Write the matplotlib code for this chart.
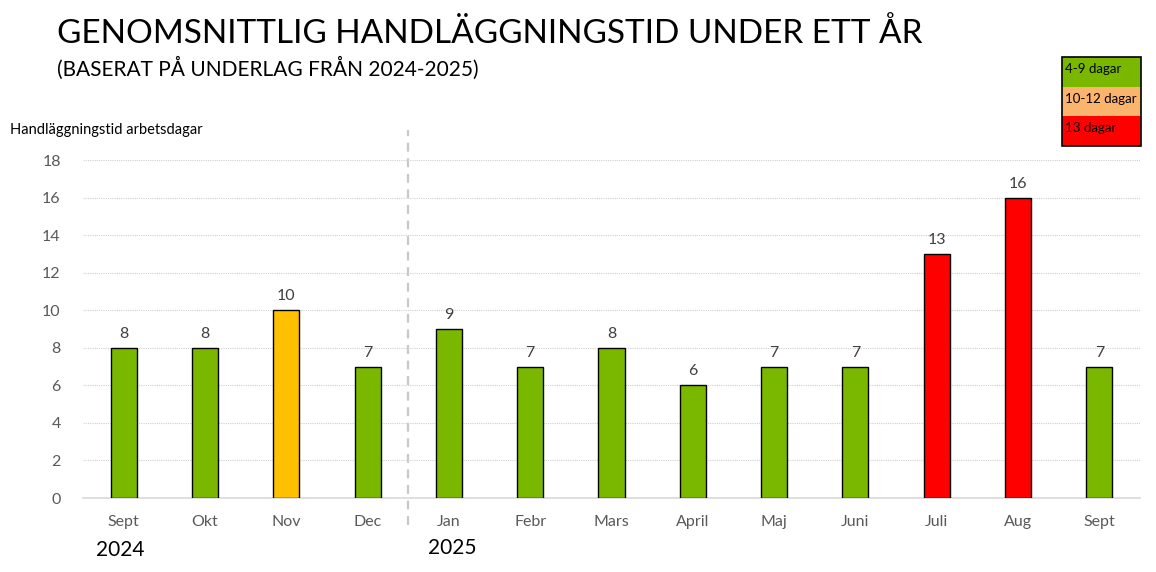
import matplotlib
matplotlib.use("Agg")
import matplotlib.pyplot as plt
from matplotlib.patches import Rectangle

plt.rcParams['font.family'] = ['Lato', 'DejaVu Sans']

months = ["Sept", "Okt", "Nov", "Dec", "Jan", "Febr", "Mars", "April", "Maj", "Juni", "Juli", "Aug", "Sept"]
values = [8, 8, 10, 7, 9, 7, 8, 6, 7, 7, 13, 16, 7]
colors = ["#7AB800", "#7AB800", "#FFC000", "#7AB800", "#7AB800", "#7AB800", "#7AB800",
          "#7AB800", "#7AB800", "#7AB800", "#FF0000", "#FF0000", "#7AB800"]
years = ["2024", "2025"]
legend_labels = ["4-9 dagar", "10-12 dagar", "13 dagar"]
legend_colors = ["#7AB800", "#FAB46E", "#FF0000"]
yticks = [0, 2, 4, 6, 8, 10, 12, 14, 16, 18]

fig = plt.figure(figsize=(11.56, 5.72), dpi=100)
ax = fig.add_axes([83/1156, 74/572, (1140-83)/1156, (498-160)/572])

x = list(range(len(months)))
ax.bar(x, values, width=0.32, color=colors, edgecolor="black", linewidth=1.0, zorder=3)
for xi, v in zip(x, values):
    ax.annotate(str(v), (xi, v), xytext=(0, 5), textcoords="offset points",
                ha="center", va="bottom", fontsize=11.5, color="#404040")

ax.set_xlim(-0.5, len(months) - 0.5)
ax.set_ylim(0, 18)
ax.set_yticks(yticks)
ax.set_xticks(x)
ax.set_xticklabels(months)
ax.tick_params(axis="both", length=0, labelsize=11.5, labelcolor="#595959")
ax.tick_params(axis="x", pad=12)
ax.tick_params(axis="y", pad=16)
ax.yaxis.grid(True, linestyle=(0, (1, 1)), color="#d0d0d0", linewidth=0.8, zorder=0)
for s in ["top", "right", "left"]:
    ax.spines[s].set_visible(False)
ax.spines["bottom"].set_color("#d9d9d9")
ax.spines["bottom"].set_linewidth(1.2)

# divider between years
ax.plot([3.5, 3.5], [-0.08, 1.09], transform=ax.get_xaxis_transform(), color="#c8c8c8",
        linestyle=(0, (4, 3)), linewidth=1.6, clip_on=False, zorder=1)

# year labels
fig.text(120/1156, 1 - 550/572, years[0], ha="center", va="center", fontsize=15, color="black")
fig.text(452/1156, 1 - 548/572, years[1], ha="center", va="center", fontsize=15, color="black")

# titles
fig.text(57/1156, 1 - 34/572, "GENOMSNITTLIG HANDLÄGGNINGSTID UNDER ETT ÅR",
         ha="left", va="center", fontsize=24, color="black")
fig.text(57/1156, 1 - 68/572, "(BASERAT PÅ UNDERLAG FRÅN 2024-2025)",
         ha="left", va="center", fontsize=15, color="black")
fig.text(10/1156, 1 - 130/572, "Handläggningstid arbetsdagar",
         ha="left", va="center", fontsize=10.5, color="black")

# legend box
lx0, lx1 = 1062, 1141
ly0 = 57
rh = 29.7
for i, (lab, col) in enumerate(zip(legend_labels, legend_colors)):
    top = ly0 + i * rh
    fig.patches.append(Rectangle((lx0/1156, 1 - (top + rh)/572), (lx1 - lx0)/1156, rh/572,
                                 transform=fig.transFigure, facecolor=col, edgecolor="none"))
    fig.text((lx0 + 3)/1156, 1 - (top + 12)/572, lab, ha="left", va="center",
             fontsize=9.5, color="black")
fig.patches.append(Rectangle((lx0/1156, 1 - (ly0 + 3*rh)/572), (lx1 - lx0)/1156, 3*rh/572,
                             transform=fig.transFigure, facecolor="none", edgecolor="black",
                             linewidth=1.2))

fig.savefig("out.png", dpi=100)
